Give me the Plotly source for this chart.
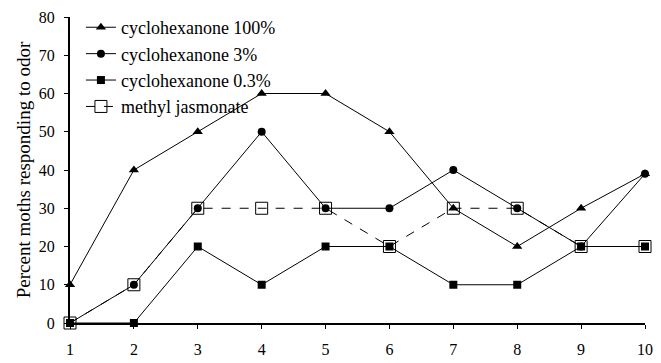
import plotly.graph_objects as go

days = [1, 2, 3, 4, 5, 6, 7, 8, 9, 10]
cyclo_100 = [10, 40, 50, 60, 60, 50, 30, 20, 30, 39]
cyclo_3 = [0, 10, 30, 50, 30, 30, 40, 30, 20, 39]
cyclo_03 = [0, 0, 20, 10, 20, 20, 10, 10, 20, 20]
methyl_jas = [0, 10, 30, 30, 30, 20, 30, 30, 20, 20]
y_ticks = [0, 10, 20, 30, 40, 50, 60, 70, 80]

FONT = "Liberation Serif, Times New Roman, serif"

fig = go.Figure()

# open squares sit underneath the filled markers
fig.add_trace(go.Scatter(
    x=days, y=methyl_jas, name="methyl jasmonate", mode="lines+markers",
    line=dict(color="black", width=1, dash="dash"),
    marker=dict(symbol="square-open", size=12, color="black", line=dict(width=1)),
    legendrank=4, cliponaxis=False))
fig.add_trace(go.Scatter(
    x=days, y=cyclo_100, name="cyclohexanone 100%", mode="lines+markers",
    line=dict(color="black", width=1),
    marker=dict(symbol="triangle-up", size=9, color="black"),
    legendrank=1, cliponaxis=False))
fig.add_trace(go.Scatter(
    x=days, y=cyclo_3, name="cyclohexanone 3%", mode="lines+markers",
    line=dict(color="black", width=1),
    marker=dict(symbol="circle", size=8, color="black"),
    legendrank=2, cliponaxis=False))
fig.add_trace(go.Scatter(
    x=days, y=cyclo_03, name="cyclohexanone 0.3%", mode="lines+markers",
    line=dict(color="black", width=1),
    marker=dict(symbol="square", size=8, color="black"),
    legendrank=3, cliponaxis=False))

fig.update_layout(
    width=661, height=363,
    margin=dict(l=70, r=16, t=17, b=40, autoexpand=False),
    paper_bgcolor="white", plot_bgcolor="white",
    font=dict(family=FONT, size=16, color="black"),
    showlegend=True,
    legend=dict(x=0.019, y=1.026, xanchor="left", yanchor="top",
                bgcolor="rgba(0,0,0,0)", font=dict(family=FONT, size=18),
                tracegroupgap=0, itemwidth=30),
    xaxis=dict(range=[1, 10], tickvals=days, showline=True, linecolor="black",
               linewidth=2, ticks="outside", ticklen=4, tickcolor="black",
               showgrid=False, zeroline=False, tickfont=dict(size=16),
               ticklabelstandoff=7, automargin=False),
    yaxis=dict(range=[0, 80], tickvals=y_ticks, showline=True, linecolor="black",
               linewidth=2, ticks="outside", ticklen=4, tickcolor="black",
               showgrid=False, zeroline=False, tickfont=dict(size=16),
               ticklabelstandoff=6, automargin=False,
               title=dict(text="Percent moths responding to odor", font=dict(size=19), standoff=3)),
)

fig.write_html("out.html")
